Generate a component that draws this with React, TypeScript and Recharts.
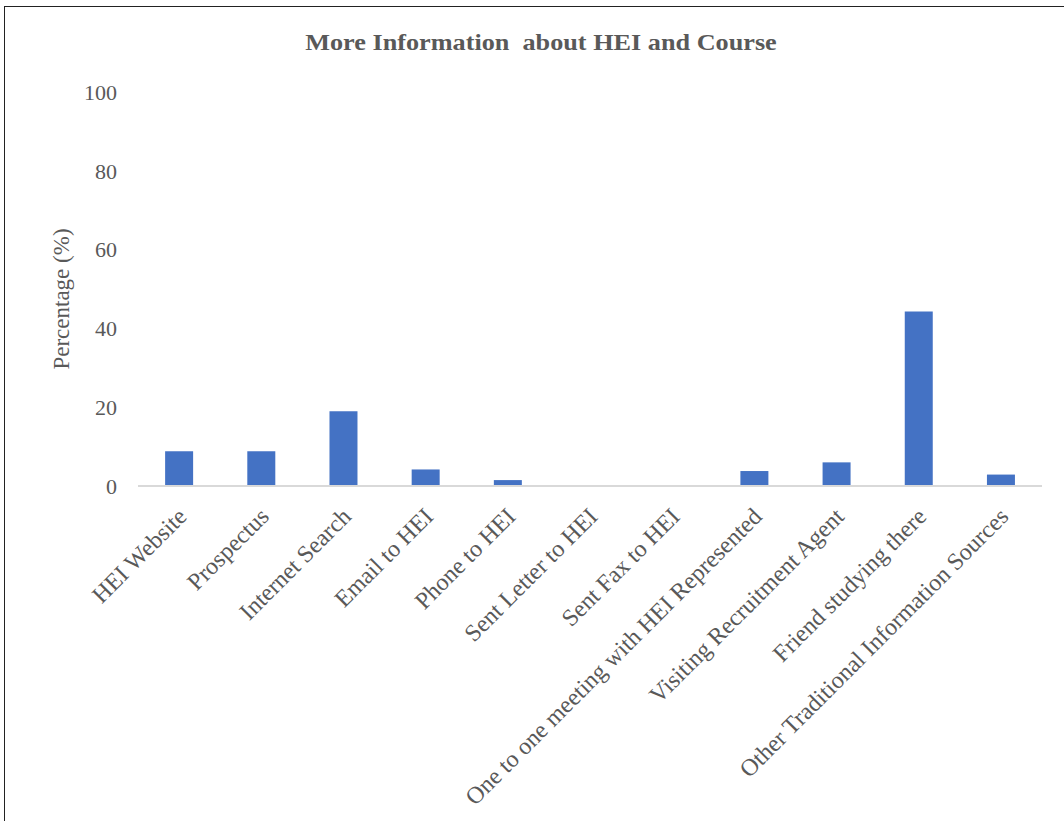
import { BarChart, Bar, XAxis, YAxis } from 'recharts';

// ============================================================================
// Data
// ============================================================================

const categories = [
  'HEI Website',
  'Prospectus',
  'Internet Search',
  'Email to HEI',
  'Phone to HEI',
  'Sent Letter to HEI',
  'Sent Fax to HEI',
  'One to one meeting with HEI Represented',
  'Visiting Recruitment Agent',
  'Friend studying there',
  'Other Traditional Information Sources',
];

const percentages = [8.8, 8.8, 19.0, 4.2, 1.5, 0, 0, 3.8, 6.0, 44.3, 2.9];

const yTicks = [0, 20, 40, 60, 80, 100];

const chartData = categories.map((name, i) => ({ name, value: percentages[i] }));

// ============================================================================
// Styles
// ============================================================================

const FONT = '"Liberation Serif", "Times New Roman", serif';
const TEXT_COLOR = '#595959';
const BAR_COLOR = '#4472C4';

function CategoryTick({ x, y, payload }: { x: number; y: number; payload: { value: string } }) {
  return (
    <text
      transform={`translate(${x + 9}, ${y + 24}) rotate(-45)`}
      textAnchor="end"
      fontFamily={FONT}
      fontSize={24}
      fill={TEXT_COLOR}
    >
      {payload.value}
    </text>
  );
}

function AxisTitle({ viewBox }: any) {
  const cx = 61;
  const cy = viewBox.y + viewBox.height / 2 + 10;
  return (
    <text
      transform={`translate(${cx}, ${cy}) rotate(-90)`}
      textAnchor="middle"
      dominantBaseline="central"
      fontFamily={FONT}
      fontSize={23}
      fill={TEXT_COLOR}
    >
      Percentage (%)
    </text>
  );
}

// ============================================================================
// Component
// ============================================================================

export default function App() {
  return (
    <div
      style={{
        position: 'fixed',
        left: 0,
        top: 0,
        width: 1064,
        height: 821,
        background: '#fff',
        overflow: 'hidden',
      }}
    >
      {/* Frame */}
      <div
        style={{
          position: 'absolute',
          left: 4,
          top: 6,
          width: 1080,
          height: 840,
          border: '1.5px solid #222',
        }}
      />

      {/* Title */}
      <div
        style={{
          position: 'absolute',
          left: 0,
          top: 30,
          width: 1082,
          textAlign: 'center',
          fontFamily: FONT,
          fontWeight: 'bold',
          fontSize: 23,
          color: TEXT_COLOR,
          whiteSpace: 'pre',
          transform: 'scaleX(1.14)',
        }}
      >
        {'More Information  about HEI and Course'}
      </div>

      <div style={{ position: 'absolute', left: 0, top: 0 }}>
        <BarChart
          width={1064}
          height={821}
          data={chartData}
          margin={{ top: 92, right: 22, bottom: 0, left: 0 }}
          barCategoryGap="33%"
        >
          <XAxis
            dataKey="name"
            interval={0}
            tickLine={false}
            axisLine={{ stroke: '#d9d9d9', strokeWidth: 2 }}
            tick={(props: any) => <CategoryTick {...props} />}
            height={335}
          />
          <YAxis
            domain={[0, 100]}
            ticks={yTicks}
            axisLine={false}
            tickLine={false}
            width={138}
            tickMargin={15}
            tick={{ fontFamily: FONT, fontSize: 22, fill: TEXT_COLOR }}
            label={(props: any) => <AxisTitle {...props} />}
          />
          <Bar dataKey="value" fill={BAR_COLOR} isAnimationActive={false} />
        </BarChart>
      </div>
    </div>
  );
}
